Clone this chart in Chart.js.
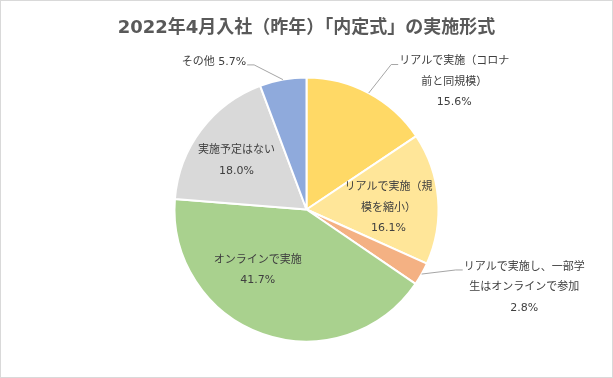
<!DOCTYPE html>
<html><head><meta charset="utf-8">
<script src="https://cdn.jsdelivr.net/npm/chart.js@4"></script>
<style>html,body{margin:0;padding:0;background:#fff}#wrap{width:613px;height:378px;position:relative}</style>
</head><body><div id="wrap"><canvas id="c"></canvas></div>
<script>
const titleText = "2022年4月入社（昨年）「内定式」の実施形式";
const categories = ["リアルで実施（コロナ前と同規模）", "リアルで実施（規模を縮小）", "リアルで実施し、一部学生はオンラインで参加", "オンラインで実施", "実施予定はない", "その他"];
const shares = [15.6, 16.1, 2.8, 41.7, 18.0, 5.7];
const labelLines = [["リアルで実施（コロナ", "前と同規模）"], ["リアルで実施（規", "模を縮小）"], ["リアルで実施し、一部学", "生はオンラインで参加"], ["オンラインで実施"], ["実施予定はない"], ["その他"]];
const sliceColors = ["#FFD966", "#FFE699", "#F4B183", "#A9D18E", "#D9D9D9", "#8FAADC"];

// label placement: polar position of label block (deg clockwise from top, fraction of radius)
const labelPlacement = [
  {angle: 49.2, dist: 1.478, leader: 'left'},
  {angle: 89, dist: 0.622},
  {angle: 109.7, dist: 1.752, leader: 'left'},
  {angle: 218.7, dist: 0.59},
  {angle: 304.9, dist: 0.647},
  {angle: 327.9, dist: 1.32, leader: 'right', inline: true}
];

const FONT = "'DejaVu Sans','Noto Sans CJK JP',sans-serif";
const TITLE_FONT = "'DejaVu Sans','Noto Sans CJK JP',sans-serif";

const labelPlugin = {
  id: 'pieLabels',
  beforeDraw(chart) {
    const ctx = chart.ctx;
    ctx.save();
    ctx.fillStyle = '#fff';
    ctx.fillRect(0, 0, chart.width, chart.height);
    ctx.strokeStyle = '#D9D9D9';
    ctx.lineWidth = 1;
    ctx.strokeRect(0.5, 0.5, chart.width - 1, chart.height - 1);
    ctx.restore();
  },
  afterDraw(chart) {
    const ctx = chart.ctx;
    ctx.save();
    ctx.font = 'bold 18px ' + TITLE_FONT;
    ctx.fillStyle = '#595959';
    ctx.textAlign = 'center';
    ctx.textBaseline = 'middle';
    ctx.fillText(titleText, chart.width / 2, 28);
    ctx.restore();
  },
  afterDatasetsDraw(chart) {
    const ctx = chart.ctx;
    const meta = chart.getDatasetMeta(0);
    ctx.save();
    ctx.font = '11px ' + FONT;
    ctx.textAlign = 'center';
    ctx.textBaseline = 'middle';
    meta.data.forEach((arc, i) => {
      const p = arc.getProps(['x', 'y', 'startAngle', 'endAngle', 'outerRadius'], true);
      const pl = labelPlacement[i];
      const R = p.outerRadius;
      const a = (pl.angle - 90) * Math.PI / 180;
      const cx = p.x + Math.cos(a) * R * pl.dist;
      const cy = p.y + Math.sin(a) * R * pl.dist;
      const pct = shares[i].toFixed(1) + '%';
      const lines = pl.inline ? [labelLines[i].join('') + ' ' + pct] : [...labelLines[i], pct];
      const lh = 20.5;
      const y0 = cy - (lines.length - 1) * lh / 2;
      const w = Math.max(...lines.map(l => ctx.measureText(l).width));
      if (pl.leader) {
        const mid = (p.startAngle + p.endAngle) / 2;
        const ax = p.x + Math.cos(mid) * R;
        const ay = p.y + Math.sin(mid) * R;
        const ey = y0 + 3;
        let ex, elbow;
        if (pl.leader === 'left') { ex = cx - w / 2 - 1; elbow = ex - 7; }
        else { ex = cx + w / 2 + 1; elbow = ex + 7; }
        ctx.strokeStyle = '#A6A6A6';
        ctx.lineWidth = 1;
        ctx.beginPath();
        ctx.moveTo(ax, ay);
        ctx.lineTo(elbow, ey);
        ctx.lineTo(ex, ey);
        ctx.stroke();
      }
      ctx.fillStyle = '#404040';
      lines.forEach((l, k) => ctx.fillText(l, cx, y0 + k * lh));
    });
    ctx.restore();
  }
};

new Chart(document.getElementById('c'), {
  type: 'pie',
  data: {
    labels: categories,
    datasets: [{
      data: shares,
      backgroundColor: sliceColors,
      borderColor: '#FFFFFF',
      borderWidth: 2,
      hoverOffset: 0
    }]
  },
  options: {
    responsive: true,
    maintainAspectRatio: false,
    animation: false,
    events: [],
    layout: {padding: {left: 173.5, right: 173.5, top: 76.5, bottom: 35.5}},
    plugins: {
      legend: {display: false},
      tooltip: {enabled: false},
      title: {display: false}
    }
  },
  plugins: [labelPlugin]
});
</script>
</body></html>
